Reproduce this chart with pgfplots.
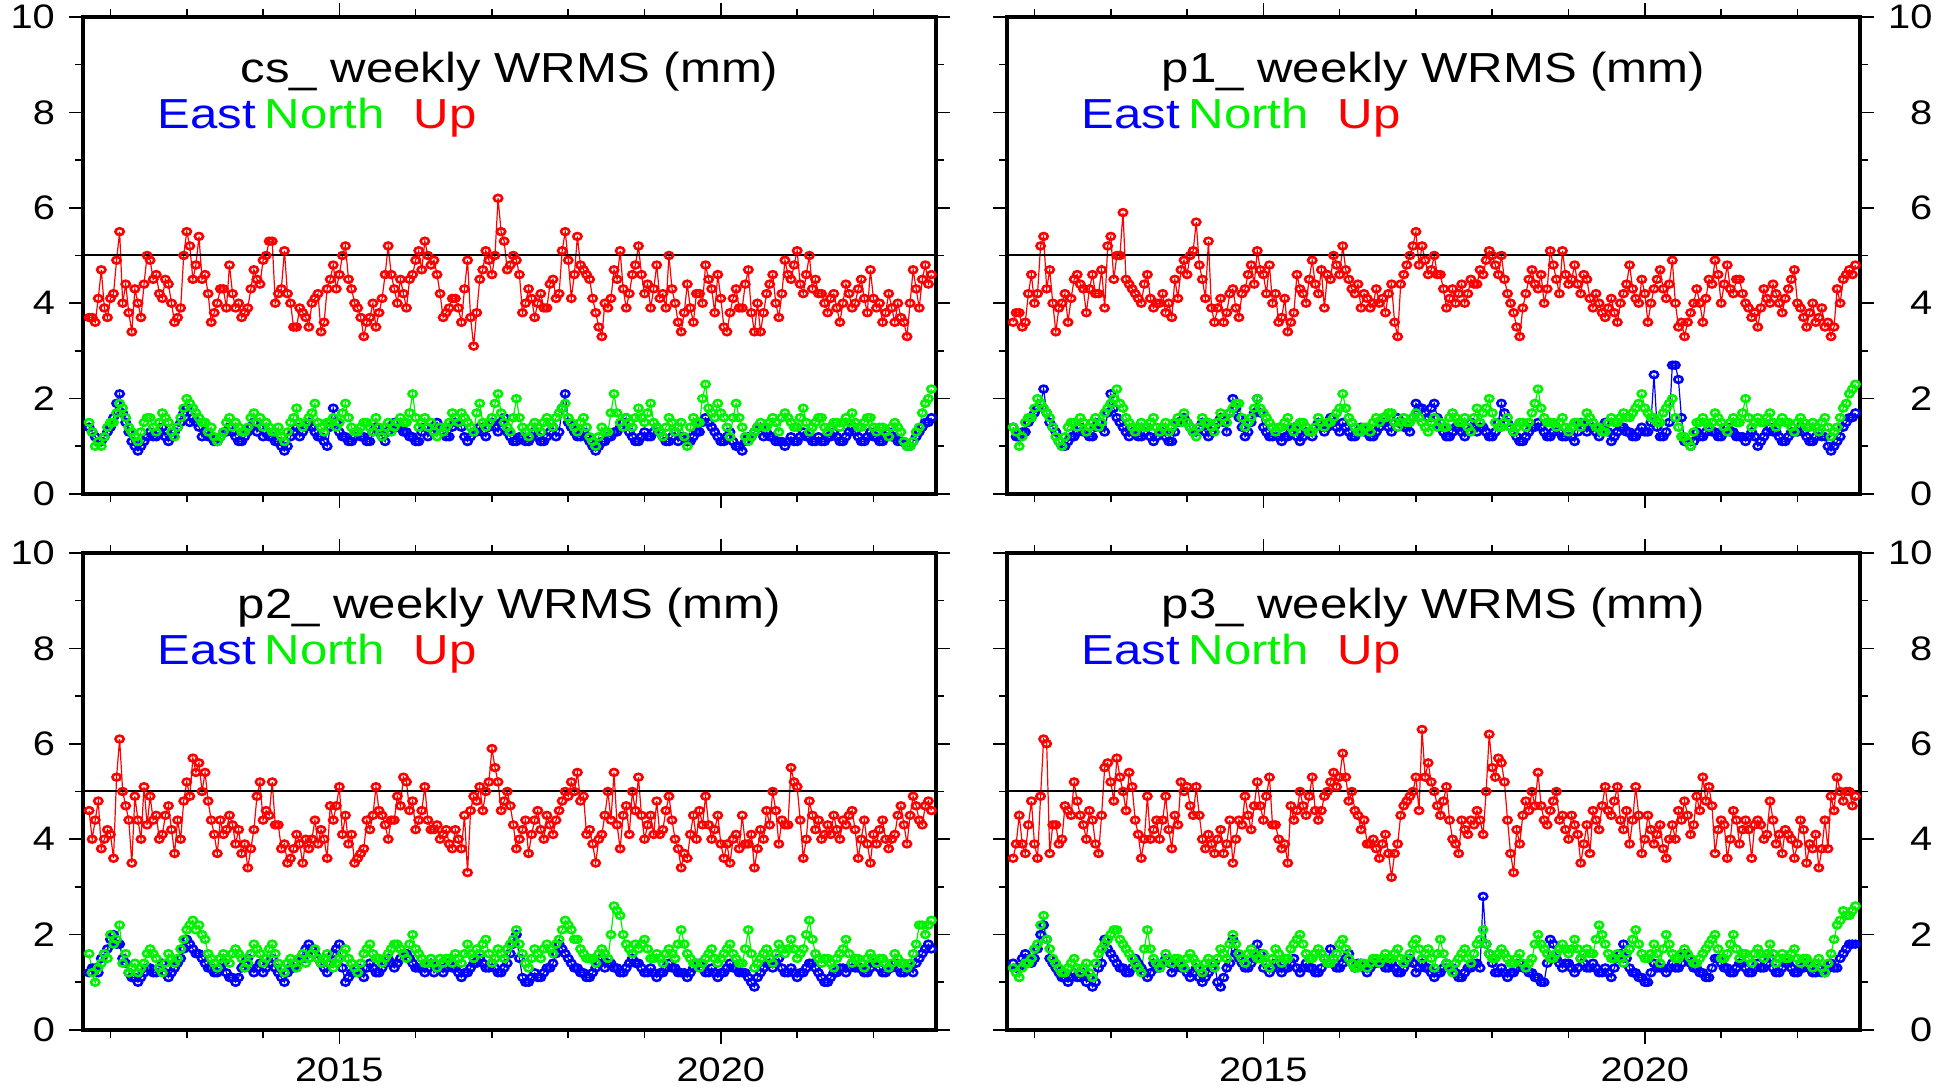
\documentclass[border=0pt]{standalone}
\usepackage{fontspec}
\setmainfont{Liberation Sans}[FakeStretch=1.17]
\usepackage{pgfplots}
\usepackage{pgfplotstable}
\pgfplotsset{compat=1.18}

\pgfplotstableread[row sep=\\, header=false]{
x 2011.72 2011.80 2011.88 2011.96 2012.04 2012.12 2012.20 2012.28 2012.36 2012.44
2012.52 2012.60 2012.68 2012.76 2012.84 2012.92 2013.00 2013.08 2013.16 2013.24
2013.32 2013.40 2013.48 2013.56 2013.64 2013.72 2013.80 2013.88 2013.96 2014.04
2014.12 2014.20 2014.28 2014.36 2014.44 2014.52 2014.60 2014.68 2014.76 2014.84
2014.92 2015.00 2015.08 2015.16 2015.24 2015.32 2015.40 2015.48 2015.56 2015.64
2015.72 2015.80 2015.88 2015.96 2016.04 2016.12 2016.20 2016.28 2016.36 2016.44
2016.52 2016.60 2016.68 2016.76 2016.84 2016.92 2017.00 2017.08 2017.16 2017.24
2017.32 2017.40 2017.48 2017.56 2017.64 2017.72 2017.80 2017.88 2017.96 2018.04
2018.12 2018.20 2018.28 2018.36 2018.44 2018.52 2018.60 2018.68 2018.76 2018.84
2018.92 2019.00 2019.08 2019.16 2019.24 2019.32 2019.40 2019.48 2019.56 2019.64
2019.72 2019.80 2019.88 2019.96 2020.04 2020.12 2020.20 2020.28 2020.36 2020.44
2020.52 2020.60 2020.68 2020.76 2020.84 2020.92 2021.00 2021.08 2021.16 2021.24
2021.32 2021.40 2021.48 2021.56 2021.64 2021.72 2021.80 2021.88 2021.96 2022.04
2022.12 2022.20 2022.28 2022.36 2022.44 2022.52 2022.60 2022.68 2022.76 \\
csU 3.7 3.6 4.7 3.7 4.2 5.5 4.4 3.4 4.0 4.4
4.9 4.6 4.1 4.4 3.6 3.9 5.5 4.5 5.4 4.6
3.6 4.0 4.3 4.8 3.9 3.7 3.9 4.7 4.4 5.0
5.3 4.2 5.1 4.0 3.5 3.8 3.5 4.1 3.4 4.3
4.8 4.6 5.2 4.3 3.9 3.3 3.7 3.5 4.1 5.2
4.3 4.5 3.9 4.6 5.1 5.3 4.8 4.6 3.7 3.9
4.1 3.6 4.9 3.1 4.5 5.1 4.6 6.2 5.3 4.8
4.9 3.8 4.3 3.7 4.2 3.9 4.5 4.2 5.5 4.1
5.4 4.7 4.5 3.8 3.3 3.9 4.7 5.1 3.9 4.6
5.2 4.2 3.9 4.8 4.2 5.0 4.0 3.4 4.4 3.6
4.2 4.8 4.3 4.6 3.5 3.8 4.3 3.9 4.7 3.4
3.4 4.2 4.6 3.7 4.9 4.5 5.1 4.2 5.0 4.5
4.2 3.8 4.2 3.6 4.4 3.9 4.3 4.1 4.7 3.9
3.6 4.2 3.6 3.7 3.3 4.7 3.9 4.8 4.6 \\
csE 1.4 1.2 1.1 1.3 1.6 2.1 1.5 1.1 0.9 1.1
1.3 1.2 1.4 1.1 1.3 1.5 1.8 1.6 1.4 1.3
1.2 1.1 1.3 1.4 1.2 1.1 1.3 1.5 1.4 1.3
1.2 1.1 0.9 1.2 1.4 1.3 1.5 1.3 1.2 1.0
1.8 1.3 1.2 1.1 1.3 1.2 1.1 1.4 1.2 1.3
1.5 1.4 1.3 1.2 1.1 1.4 1.3 1.5 1.3 1.2
1.5 1.4 1.1 1.3 1.4 1.2 1.5 1.3 1.6 1.2
1.1 1.2 1.1 1.3 1.1 1.2 1.4 1.3 2.1 1.4
1.2 1.3 1.1 0.9 1.1 1.2 1.3 1.4 1.6 1.2
1.1 1.3 1.2 1.4 1.2 1.1 1.3 1.2 1.1 1.2
1.3 1.6 1.4 1.2 1.1 1.3 1.0 0.9 1.2 1.3
1.4 1.3 1.2 1.1 1.0 1.2 1.1 1.3 1.2 1.1
1.1 1.2 1.3 1.1 1.2 1.4 1.2 1.1 1.3 1.2
1.1 1.3 1.2 1.1 1.0 1.1 1.3 1.5 1.6 \\
csN 1.5 1.0 1.0 1.4 1.5 1.9 1.6 1.3 1.1 1.5
1.6 1.3 1.7 1.5 1.2 1.6 2.0 1.8 1.6 1.5
1.4 1.1 1.3 1.6 1.5 1.3 1.4 1.7 1.6 1.5
1.3 1.4 1.1 1.5 1.8 1.4 1.6 1.9 1.4 1.5
1.6 1.5 1.9 1.4 1.3 1.5 1.4 1.6 1.2 1.5
1.4 1.6 1.5 2.1 1.4 1.6 1.5 1.2 1.3 1.5
1.6 1.7 1.5 1.3 1.9 1.4 1.6 2.1 1.5 1.3
2.0 1.4 1.2 1.5 1.3 1.6 1.4 1.7 1.9 1.5
1.3 1.6 1.2 1.0 1.4 1.3 2.1 1.5 1.6 1.4
1.8 1.5 1.9 1.4 1.2 1.6 1.3 1.5 1.0 1.6
1.5 2.3 1.7 1.9 1.6 1.2 1.9 1.4 1.1 1.3
1.5 1.4 1.6 1.3 1.7 1.5 1.4 1.8 1.3 1.5
1.6 1.3 1.5 1.4 1.6 1.7 1.4 1.5 1.6 1.3
1.4 1.2 1.5 1.3 1.0 1.1 1.4 1.9 2.2 \\
aU 3.6 3.8 3.6 4.6 4.2 5.4 4.7 3.4 4.0 3.6
4.5 4.4 3.8 4.6 4.2 3.9 5.4 5.0 5.9 4.4
4.2 4.0 4.6 3.9 4.0 3.8 3.7 4.1 4.9 5.0
5.7 4.5 5.3 3.6 4.1 3.8 4.3 3.7 4.3 4.8
5.1 4.6 4.8 4.2 3.7 3.4 3.8 4.3 4.0 4.9
4.2 3.9 4.5 4.8 5.2 4.5 4.2 3.9 4.1 4.0
4.0 3.8 4.4 3.3 4.6 5.0 5.5 5.2 4.6 5.0
4.6 3.9 4.3 4.2 4.0 4.5 4.4 4.6 5.1 4.8
5.0 4.2 3.8 3.3 4.2 4.7 4.3 4.0 5.1 4.5
5.1 4.4 4.8 4.2 4.5 3.9 4.0 3.7 4.1 3.6
4.2 4.8 4.1 4.5 3.6 4.3 4.7 4.1 4.9 3.5
3.3 3.8 4.3 3.6 4.5 4.9 4.0 4.8 4.2 4.5
4.0 3.7 3.5 4.3 4.0 4.2 3.8 4.3 4.7 3.9
3.5 4.0 3.7 3.5 3.3 4.3 4.5 4.7 4.8 \\
aE 1.4 1.2 1.3 1.6 1.8 2.2 1.5 1.3 1.0 1.1
1.2 1.4 1.3 1.2 1.5 1.3 2.1 1.6 1.4 1.2
1.3 1.2 1.4 1.1 1.3 1.2 1.1 1.5 1.6 1.4
1.3 1.5 1.2 1.4 1.6 1.3 2.0 1.6 1.2 1.5
2.0 1.4 1.2 1.3 1.1 1.2 1.4 1.1 1.3 1.2
1.5 1.3 1.6 1.4 1.5 1.3 1.2 1.4 1.3 1.2
1.4 1.5 1.3 1.6 1.4 1.3 1.9 1.8 1.6 1.9
1.4 1.2 1.3 1.4 1.2 1.5 1.3 1.4 1.2 1.3
1.9 1.5 1.3 1.1 1.2 1.4 1.5 1.3 1.2 1.4
1.2 1.3 1.1 1.5 1.3 1.4 1.2 1.5 1.1 1.3
1.4 1.3 1.2 1.4 1.3 2.5 1.2 1.3 2.7 2.4
1.1 1.0 1.3 1.2 1.4 1.3 1.2 1.4 1.3 1.2
1.1 1.3 1.0 1.2 1.4 1.3 1.1 1.2 1.3 1.4
1.2 1.1 1.3 1.2 0.9 1.1 1.4 1.6 1.7 \\
aN 1.4 1.0 1.5 1.6 2.0 1.8 1.6 1.2 1.0 1.4
1.5 1.6 1.3 1.5 1.4 1.7 1.9 2.2 1.8 1.5
1.3 1.5 1.4 1.6 1.3 1.5 1.4 1.6 1.7 1.4
1.2 1.6 1.5 1.3 1.7 1.5 1.8 1.9 1.4 1.6
2.0 1.7 1.5 1.3 1.4 1.6 1.3 1.5 1.4 1.3
1.6 1.4 1.5 1.7 2.1 1.6 1.4 1.3 1.4 1.5
1.5 1.6 1.7 1.4 1.6 1.5 1.7 1.5 1.3 1.6
1.5 1.4 1.7 1.5 1.6 1.3 1.8 1.7 2.0 1.5
1.4 1.6 1.3 1.5 1.4 1.7 2.2 1.6 1.5 1.4
1.6 1.3 1.5 1.4 1.7 1.5 1.4 1.3 1.6 1.5
1.7 1.6 1.8 2.1 1.7 1.6 1.5 1.8 2.0 1.4
1.2 1.0 1.5 1.6 1.4 1.7 1.5 1.3 1.6 1.5
2.0 1.4 1.6 1.5 1.7 1.4 1.6 1.5 1.3 1.6
1.4 1.5 1.3 1.6 1.2 1.4 1.8 2.1 2.3 \\
bU 4.6 4.4 3.8 4.2 3.6 6.1 4.7 3.5 4.4 5.1
4.9 4.5 4.1 4.7 3.7 4.0 5.2 5.7 5.6 5.4
4.4 3.7 4.1 4.5 3.9 3.7 3.4 4.2 5.2 4.6
5.2 4.3 3.9 3.6 4.1 3.5 3.8 4.4 4.2 3.6
4.4 5.1 4.5 4.1 3.6 3.8 4.2 5.1 4.5 4.0
4.4 4.7 5.2 4.8 4.4 5.1 4.2 4.3 4.1 3.9
4.2 3.8 3.3 4.9 5.1 5.0 5.9 5.2 4.8 4.7
3.8 4.2 3.7 4.4 4.2 4.5 4.1 4.6 5.0 5.2
5.4 4.9 4.2 3.5 4.1 5.0 5.4 3.8 4.7 5.0
5.3 4.0 4.5 4.8 4.2 4.9 4.0 3.4 3.6 4.5
4.6 4.9 4.0 4.5 3.6 3.5 4.1 4.5 3.9 3.4
4.2 4.6 5.0 3.9 4.3 5.5 5.1 3.6 4.8 4.2
4.0 4.3 4.5 4.0 4.3 4.6 3.6 4.4 3.5 3.9
4.4 3.8 4.1 4.7 3.9 4.9 4.4 4.7 4.6 \\
bE 1.2 1.3 1.5 1.7 2.0 1.8 1.4 1.1 1.0 1.2
1.3 1.2 1.4 1.1 1.3 1.5 1.9 1.7 1.6 1.4
1.3 1.2 1.4 1.1 1.0 1.3 1.5 1.2 1.4 1.3
1.5 1.2 1.0 1.3 1.4 1.5 1.8 1.6 1.4 1.2
1.6 1.8 1.0 1.2 1.3 1.1 1.4 1.2 1.3 1.5
1.3 1.5 1.6 1.4 1.3 1.2 1.4 1.3 1.2 1.4
1.3 1.1 1.2 1.4 1.5 1.3 1.4 1.2 1.3 1.6
2.0 1.1 1.0 1.2 1.1 1.3 1.4 1.8 1.6 1.4
1.3 1.2 1.1 1.3 1.5 1.4 1.3 1.2 1.3 1.5
1.4 1.2 1.3 1.1 1.2 1.4 1.3 1.2 1.1 1.3
1.4 1.2 1.3 1.1 1.2 1.4 1.3 1.2 1.1 0.9
1.2 1.4 1.3 1.5 1.2 1.3 1.1 1.2 1.4 1.3
1.1 1.0 1.2 1.3 1.2 1.4 1.3 1.2 1.3 1.4
1.2 1.3 1.4 1.2 1.3 1.2 1.5 1.7 1.7 \\
bN 1.6 1.0 1.4 1.5 1.8 2.2 1.6 1.3 1.2 1.4
1.7 1.5 1.2 1.6 1.4 1.7 2.1 2.3 2.2 1.9
1.5 1.3 1.6 1.4 1.7 1.5 1.4 1.8 1.6 1.5
1.8 1.4 1.2 1.5 1.3 1.6 1.5 1.7 1.4 1.6
1.3 1.5 1.7 1.4 1.2 1.6 1.8 1.5 1.4 1.6
1.8 1.7 1.5 2.0 1.6 1.4 1.5 1.3 1.4 1.5
1.6 1.4 1.8 1.5 1.6 1.9 1.4 1.7 1.5 1.8
2.1 1.6 1.3 1.7 1.5 1.8 1.6 1.9 2.3 2.1
1.9 1.6 1.5 1.4 1.7 1.5 2.6 2.4 1.8 1.6
1.7 1.9 1.5 1.6 1.4 1.7 1.5 2.1 1.6 1.4
1.3 1.5 1.7 1.4 1.6 1.8 1.5 1.4 2.1 1.3
1.5 1.7 1.4 1.8 1.6 1.9 1.5 1.7 2.3 1.6
1.4 1.5 1.3 1.6 1.9 1.4 1.5 1.3 1.6 1.4
1.5 1.3 1.6 1.4 1.3 1.6 2.2 2.0 2.3 \\
cU 3.6 4.5 3.7 4.8 3.6 6.1 3.7 4.3 4.0 4.6
5.2 4.5 4.0 4.4 3.7 5.5 5.2 5.7 5.0 5.4
4.4 3.6 4.9 4.2 4.0 4.9 3.8 4.3 5.0 4.7
5.1 4.0 4.1 3.7 4.2 3.9 3.5 4.4 4.9 4.2
5.2 4.4 5.3 4.3 3.8 3.5 4.4 5.0 4.5 5.3
4.4 4.9 5.2 5.1 5.8 4.8 4.6 4.2 3.9 4.0
3.6 4.1 3.2 3.9 4.7 4.9 5.3 6.3 5.6 5.0
4.5 5.1 4.0 3.7 4.2 4.4 4.6 4.1 6.2 5.3
5.6 4.4 3.3 3.9 4.8 5.0 5.4 4.4 4.6 5.0
4.5 4.0 4.3 3.5 4.3 4.6 4.2 5.1 4.5 5.1
4.2 3.9 5.1 3.7 4.5 3.9 4.3 3.6 4.3 4.6
4.8 4.1 4.9 5.3 5.1 3.7 4.4 3.6 4.6 3.9
4.4 3.6 4.4 4.0 4.8 3.9 3.7 4.1 3.6 4.4
3.5 3.8 3.4 4.4 4.9 5.3 4.8 5.0 4.9 \\
cE 1.4 1.3 1.6 1.4 1.7 2.2 1.5 1.3 1.1 1.0
1.2 1.1 1.0 0.9 1.3 1.9 1.6 1.4 1.3 1.2
1.5 1.3 1.1 1.4 1.3 1.5 1.2 1.4 1.3 1.1
1.3 1.0 1.2 1.4 0.9 1.3 1.9 1.5 1.3 1.4
1.8 1.3 1.2 1.4 1.2 1.3 1.5 1.2 1.4 1.3
1.2 1.5 1.7 1.3 1.4 1.6 1.3 1.4 1.2 1.4
1.4 1.3 1.4 1.2 1.3 1.5 1.2 1.4 1.3 1.1
1.2 1.4 1.3 1.1 1.2 1.3 1.4 2.8 1.6 1.2
1.3 1.1 1.2 1.4 1.3 1.2 1.1 1.0 1.9 1.5
1.3 1.4 1.2 1.5 1.3 1.4 1.2 1.3 1.1 1.5
1.8 1.3 1.2 1.1 1.0 1.4 1.3 1.2 1.4 1.3
1.6 1.4 1.3 1.2 1.1 1.5 1.4 1.3 1.2 1.4
1.3 1.2 1.4 1.3 1.5 1.2 1.3 1.4 1.2 1.3
1.4 1.2 1.3 1.2 1.4 1.3 1.6 1.8 1.8 \\
cN 1.3 1.1 1.4 1.5 1.8 2.4 1.7 1.4 1.2 1.3
1.5 1.2 1.4 1.1 1.6 1.8 2.0 2.1 1.8 1.6
1.4 1.2 2.1 1.5 1.3 1.6 1.4 1.5 1.3 1.6
1.4 1.2 1.5 1.3 1.7 1.5 2.0 1.6 1.4 1.7
1.5 1.6 1.3 1.7 1.4 1.5 1.8 2.0 1.6 1.5
1.7 1.5 1.4 1.6 1.9 1.5 1.3 1.4 1.3 1.5
1.4 1.6 1.5 1.7 1.4 1.6 1.9 1.5 1.7 1.3
1.9 1.4 1.2 1.5 1.7 1.4 1.8 2.1 1.6 1.5
1.7 1.5 1.4 1.6 1.3 1.5 2.0 1.7 1.5 1.6
1.8 1.6 1.9 1.5 1.7 1.6 2.2 1.8 1.5 1.6
1.4 1.7 2.1 1.6 1.5 1.8 1.4 2.0 1.6 1.5
1.7 1.5 1.4 1.6 1.8 2.0 1.5 1.6 2.0 1.5
1.6 1.4 1.7 1.5 1.8 1.4 1.6 1.5 1.7 1.4
1.5 1.3 1.5 1.2 1.6 2.2 2.5 2.4 2.6 \\
}\rawdata
\pgfplotstabletranspose[colnames from=0]\data\rawdata

\pgfplotstableread[row sep=\\, header=false]{
x 2011.76 2011.84 2011.92 2012.00 2012.08 2012.16 2012.24 2012.32 2012.40 2012.48
2012.56 2012.64 2012.72 2012.80 2012.88 2012.96 2013.04 2013.12 2013.20 2013.28
2013.36 2013.44 2013.52 2013.60 2013.68 2013.76 2013.84 2013.92 2014.00 2014.08
2014.16 2014.24 2014.32 2014.40 2014.48 2014.56 2014.64 2014.72 2014.80 2014.88
2014.96 2015.04 2015.12 2015.20 2015.28 2015.36 2015.44 2015.52 2015.60 2015.68
2015.76 2015.84 2015.92 2016.00 2016.08 2016.16 2016.24 2016.32 2016.40 2016.48
2016.56 2016.64 2016.72 2016.80 2016.88 2016.96 2017.04 2017.12 2017.20 2017.28
2017.36 2017.44 2017.52 2017.60 2017.68 2017.76 2017.84 2017.92 2018.00 2018.08
2018.16 2018.24 2018.32 2018.40 2018.48 2018.56 2018.64 2018.72 2018.80 2018.88
2018.96 2019.04 2019.12 2019.20 2019.28 2019.36 2019.44 2019.52 2019.60 2019.68
2019.76 2019.84 2019.92 2020.00 2020.08 2020.16 2020.24 2020.32 2020.40 2020.48
2020.56 2020.64 2020.72 2020.80 2020.88 2020.96 2021.04 2021.12 2021.20 2021.28
2021.36 2021.44 2021.52 2021.60 2021.68 2021.76 2021.84 2021.92 2022.00 2022.08
2022.16 2022.24 2022.32 2022.40 2022.48 2022.56 2022.64 2022.72 \\
csU 3.7 4.1 3.9 4.1 4.9 4.0 3.8 4.3 3.7 5.0
4.5 4.2 4.5 4.0 3.7 5.0 5.2 4.8 4.5 4.2
3.8 4.3 3.9 4.2 4.0 3.8 4.3 4.5 4.9 5.3
4.0 4.3 4.2 3.5 3.9 3.7 4.0 4.2 3.6 4.5
4.3 5.0 4.5 4.0 3.7 3.6 4.0 3.8 4.6 4.6
4.0 4.2 4.5 4.9 4.7 5.0 4.9 4.2 3.8 4.1
3.9 4.3 3.7 3.8 4.7 4.9 5.0 5.5 4.7 5.0
4.6 4.0 4.1 4.0 3.9 4.4 4.1 5.1 4.9 4.6
4.8 4.6 4.1 3.5 4.0 4.1 4.5 4.3 4.2 4.8
4.6 4.4 4.3 4.1 3.9 4.3 3.6 3.8 3.9 4.2
4.0 4.5 3.8 4.1 3.4 4.1 3.9 4.4 3.8 4.0
3.8 4.4 4.0 4.2 4.6 4.8 4.4 4.6 4.3 4.2
4.0 4.1 3.9 4.0 4.2 4.0 4.5 3.8 4.1 4.0
3.8 3.9 4.0 3.6 4.0 4.3 4.5 4.4 \\
csE 1.3 1.1 1.2 1.4 1.9 1.7 1.3 1.0 1.0 1.2
1.2 1.3 1.2 1.2 1.4 1.7 1.5 1.5 1.2 1.2
1.1 1.2 1.3 1.3 1.1 1.2 1.4 1.3 1.2 1.2
1.1 1.0 1.0 1.3 1.2 1.4 1.4 1.2 1.1 1.4
1.5 1.2 1.1 1.2 1.2 1.1 1.3 1.3 1.1 1.4
1.4 1.3 1.2 1.1 1.3 1.2 1.4 1.4 1.2 1.4
1.5 1.2 1.2 1.3 1.3 1.4 1.4 1.5 1.3 1.1
1.2 1.1 1.2 1.2 1.1 1.3 1.2 1.8 1.5 1.3
1.2 1.2 1.0 1.0 1.1 1.2 1.3 1.5 1.3 1.1
1.2 1.2 1.3 1.3 1.1 1.2 1.1 1.2 1.1 1.3
1.5 1.5 1.3 1.1 1.2 1.1 1.0 1.1 1.2 1.4
1.2 1.2 1.1 1.1 1.1 1.1 1.2 1.2 1.1 1.2
1.1 1.2 1.2 1.1 1.3 1.3 1.1 1.2 1.2 1.1
1.2 1.2 1.1 1.1 1.0 1.2 1.4 1.5 \\
csN 1.3 1.1 1.2 1.5 1.7 1.8 1.4 1.2 1.3 1.6
1.4 1.5 1.6 1.3 1.4 1.8 1.9 1.7 1.5 1.3
1.2 1.2 1.5 1.4 1.4 1.3 1.6 1.5 1.4 1.4
1.3 1.2 1.3 1.6 1.5 1.5 1.7 1.5 1.3 1.5
1.4 1.7 1.6 1.3 1.4 1.5 1.3 1.4 1.4 1.3
1.5 1.5 1.7 1.6 1.5 1.4 1.3 1.4 1.4 1.7
1.5 1.6 1.4 1.7 1.5 1.5 1.9 1.7 1.4 1.6
1.6 1.3 1.4 1.4 1.5 1.5 1.6 1.8 1.6 1.4
1.5 1.4 1.1 1.2 1.3 1.7 1.7 1.4 1.5 1.6
1.6 1.7 1.5 1.3 1.4 1.5 1.4 1.2 1.4 1.5
2.0 1.8 1.6 1.7 1.4 1.6 1.6 1.2 1.2 1.4
1.4 1.5 1.5 1.6 1.6 1.4 1.6 1.5 1.4 1.6
1.4 1.4 1.5 1.5 1.5 1.5 1.4 1.6 1.4 1.4
1.3 1.4 1.4 1.1 1.0 1.3 1.7 2.0 \\
aU 3.8 3.5 4.2 4.0 5.2 4.3 4.0 3.9 4.2 4.1
4.6 4.3 4.3 4.2 4.7 5.2 4.5 5.0 4.5 4.3
4.1 4.4 4.1 4.0 4.2 4.0 4.5 4.7 4.6 5.1
4.8 4.1 3.9 3.9 3.6 4.2 3.9 4.2 4.6 4.4
4.7 4.2 4.0 3.6 4.1 3.6 4.6 4.2 4.5 4.4
4.7 4.6 5.0 4.6 4.7 4.3 4.4 4.2 3.9 4.3
4.1 4.2 3.6 4.4 4.8 5.2 4.8 4.9 4.7 4.6
4.3 4.1 4.0 4.4 4.2 4.4 4.7 4.9 5.0 4.6
4.5 4.0 3.5 3.9 4.5 4.4 4.6 4.3 4.8 4.2
4.6 4.5 4.4 4.6 4.1 4.2 3.8 3.9 3.8 4.0
4.4 4.3 4.0 4.2 4.0 4.5 4.3 4.4 4.0 3.6
3.6 4.0 4.0 4.1 4.4 4.6 4.4 4.3 4.5 4.2
3.9 3.8 3.9 4.1 4.4 4.0 4.1 4.5 4.0 3.7
3.8 3.6 3.9 3.6 3.5 4.0 4.6 4.6 \\
aE 1.2 1.3 1.5 1.7 1.9 1.7 1.4 1.1 1.0 1.2
1.3 1.3 1.2 1.4 1.4 1.7 1.8 1.5 1.3 1.3
1.2 1.3 1.2 1.2 1.3 1.1 1.3 1.5 1.5 1.3
1.4 1.3 1.3 1.5 1.5 1.7 1.8 1.4 1.3 1.7
1.7 1.3 1.2 1.2 1.2 1.3 1.2 1.2 1.3 1.4
1.4 1.4 1.5 1.3 1.4 1.2 1.3 1.3 1.2 1.3
1.5 1.4 1.5 1.5 1.4 1.6 1.8 1.7 1.8 1.6
1.3 1.2 1.4 1.3 1.3 1.4 1.4 1.3 1.2 1.5
1.7 1.4 1.2 1.1 1.3 1.4 1.4 1.2 1.3 1.3
1.2 1.2 1.3 1.4 1.4 1.3 1.4 1.3 1.2 1.4
1.3 1.2 1.3 1.3 1.5 1.4 1.2 1.5 2.7 1.6
1.1 1.1 1.2 1.3 1.3 1.2 1.3 1.3 1.2 1.2
1.2 1.2 1.1 1.3 1.3 1.2 1.1 1.3 1.3 1.3
1.1 1.2 1.2 1.0 1.0 1.2 1.5 1.6 \\
aN 1.3 1.2 1.6 1.8 1.9 1.7 1.4 1.1 1.2 1.5
1.4 1.5 1.4 1.6 1.5 1.8 2.0 1.9 1.6 1.4
1.4 1.4 1.5 1.4 1.4 1.3 1.5 1.5 1.5 1.3
1.4 1.5 1.4 1.5 1.6 1.7 1.9 1.6 1.5 1.8
1.8 1.6 1.4 1.4 1.5 1.4 1.4 1.5 1.3 1.4
1.5 1.5 1.6 1.8 1.8 1.5 1.3 1.4 1.3 1.6
1.6 1.7 1.5 1.5 1.5 1.6 1.6 1.4 1.5 1.4
1.4 1.6 1.6 1.5 1.4 1.6 1.5 1.8 1.7 1.4
1.5 1.4 1.4 1.5 1.5 1.9 1.8 1.5 1.5 1.5
1.4 1.4 1.5 1.5 1.6 1.4 1.3 1.5 1.5 1.6
1.6 1.7 1.9 1.8 1.6 1.5 1.7 1.9 1.6 1.2
1.1 1.3 1.5 1.5 1.5 1.6 1.4 1.5 1.5 1.7
1.6 1.5 1.5 1.6 1.5 1.5 1.5 1.4 1.5 1.5
1.4 1.4 1.5 1.4 1.3 1.6 1.9 2.2 \\
bU 4.0 4.8 4.0 4.1 5.3 5.0 4.4 4.9 4.0 4.3
4.4 4.0 4.5 4.2 4.4 4.8 4.9 5.4 5.0 4.8
4.1 4.4 4.2 4.3 4.2 3.9 3.8 4.9 4.4 4.5
4.3 3.8 3.5 3.8 3.9 4.0 4.0 3.9 4.0 4.7
4.7 4.1 3.9 3.5 3.7 4.4 4.5 4.6 4.3 4.4
4.9 5.3 4.6 4.2 4.6 4.4 4.2 4.0 4.2 3.8
4.0 4.5 4.6 4.8 4.6 5.2 5.5 4.6 5.0 4.3
4.0 4.4 4.1 4.6 4.0 4.3 4.4 4.8 4.9 5.0
4.8 4.1 3.9 4.0 4.5 4.4 4.3 4.5 4.1 4.6
4.5 4.3 4.1 4.1 4.6 4.4 3.8 3.7 4.1 4.0
4.3 4.3 4.2 3.9 3.9 4.0 3.8 3.9 4.1 3.8
4.0 4.3 4.6 4.4 4.3 5.2 4.4 4.0 4.5 4.4
4.1 4.1 4.2 4.4 4.5 4.2 4.0 3.9 4.1 4.2
4.0 4.0 4.5 4.3 4.5 4.7 4.3 4.8 \\
bE 1.3 1.2 1.6 1.9 1.8 1.5 1.2 1.1 1.1 1.3
1.2 1.3 1.2 1.2 1.4 1.7 1.8 1.6 1.5 1.3
1.2 1.3 1.2 1.1 1.1 1.4 1.3 1.3 1.2 1.4
1.3 1.1 1.2 1.3 1.5 1.7 1.7 1.5 1.3 1.4
1.7 1.3 1.1 1.2 1.2 1.3 1.3 1.2 1.4 1.4
1.4 1.6 1.5 1.3 1.3 1.3 1.2 1.3 1.3 1.3
1.2 1.2 1.3 1.4 1.4 1.3 1.3 1.2 1.4 1.8
1.5 1.0 1.1 1.1 1.2 1.3 1.6 1.7 1.5 1.3
1.2 1.1 1.2 1.4 1.3 1.4 1.3 1.2 1.4 1.4
1.3 1.2 1.2 1.2 1.3 1.3 1.2 1.2 1.2 1.4
1.3 1.2 1.2 1.2 1.3 1.3 1.2 1.2 1.0 1.1
1.3 1.4 1.4 1.3 1.2 1.2 1.2 1.3 1.4 1.2
1.0 1.1 1.2 1.3 1.3 1.3 1.3 1.2 1.4 1.3
1.2 1.3 1.3 1.2 1.3 1.4 1.6 1.8 \\
bN 1.2 1.3 1.6 2.0 1.9 1.4 1.2 1.4 1.3 1.6
1.6 1.3 1.4 1.5 1.5 1.9 2.2 2.1 2.0 1.6
1.4 1.5 1.5 1.6 1.6 1.3 1.6 1.7 1.4 1.7
1.6 1.3 1.4 1.4 1.5 1.4 1.6 1.5 1.5 1.4
1.4 1.6 1.5 1.3 1.4 1.7 1.6 1.5 1.5 1.7
1.8 1.6 1.8 1.7 1.5 1.4 1.4 1.5 1.5 1.4
1.5 1.6 1.6 1.7 1.8 1.6 1.5 1.6 1.7 1.9
1.8 1.4 1.5 1.6 1.7 1.7 1.8 2.1 2.2 1.9
1.7 1.5 1.5 1.6 1.6 2.0 2.5 2.0 1.7 1.8
1.8 1.7 1.5 1.5 1.6 1.6 1.8 1.8 1.5 1.4
1.4 1.6 1.5 1.5 1.7 1.6 1.4 1.7 1.6 1.4
1.6 1.5 1.6 1.7 1.7 1.7 1.6 2.0 1.9 1.5
1.5 1.4 1.5 1.7 1.6 1.5 1.4 1.5 1.5 1.5
1.4 1.4 1.5 1.4 1.4 1.8 2.2 2.2 \\
cU 3.9 3.9 4.3 3.9 4.9 6.0 4.3 3.9 4.7 4.5
4.8 4.3 4.6 3.9 4.5 5.6 4.8 5.3 4.6 5.1
4.1 4.0 4.0 4.4 4.4 4.2 4.5 5.2 5.1 4.5
4.5 3.8 3.9 4.0 3.7 4.4 4.0 4.3 4.5 4.7
4.7 4.9 4.3 4.0 3.9 4.7 4.6 4.7 4.9 4.6
4.6 5.0 5.4 5.3 5.3 5.0 4.5 4.4 3.9 3.8
3.9 3.7 3.7 4.5 4.8 5.0 4.6 5.3 5.2 4.7
4.8 4.4 3.9 4.4 4.1 4.3 4.4 5.0 5.5 5.7
5.2 3.7 4.2 4.5 4.6 4.7 4.7 4.3 4.8 4.4
4.2 4.5 4.1 3.9 3.7 4.4 4.7 4.6 4.8 4.4
4.6 4.4 4.5 4.0 4.2 4.1 3.8 4.0 4.0 4.4
4.5 4.3 4.6 4.8 4.7 4.2 4.3 4.0 4.4 4.2
4.2 4.3 4.3 4.1 4.4 4.1 4.2 4.0 3.9 4.2
3.9 4.1 3.8 3.8 4.6 5.0 5.0 4.7 \\
cE 1.3 1.5 1.5 1.5 2.0 1.9 1.4 1.2 1.1 1.1
1.1 1.2 1.1 1.0 1.4 1.7 1.5 1.3 1.2 1.3
1.4 1.2 1.2 1.3 1.4 1.4 1.3 1.3 1.2 1.2
1.1 1.1 1.3 1.0 1.1 1.4 1.6 1.4 1.3 1.5
1.6 1.4 1.3 1.3 1.3 1.4 1.3 1.3 1.3 1.2
1.3 1.4 1.5 1.3 1.5 1.4 1.4 1.3 1.3 1.4
1.4 1.3 1.3 1.2 1.4 1.4 1.3 1.3 1.2 1.2
1.3 1.3 1.2 1.1 1.3 1.4 1.3 1.8 1.4 1.2
1.2 1.2 1.3 1.3 1.2 1.1 1.0 1.4 1.8 1.4
1.4 1.3 1.3 1.4 1.3 1.3 1.2 1.2 1.3 1.6
1.5 1.2 1.1 1.0 1.2 1.3 1.3 1.3 1.3 1.4
1.5 1.3 1.2 1.1 1.3 1.5 1.3 1.2 1.3 1.4
1.2 1.3 1.3 1.4 1.3 1.2 1.4 1.3 1.2 1.3
1.3 1.2 1.2 1.3 1.3 1.5 1.7 1.8 \\
cN 1.2 1.3 1.4 1.7 2.2 1.9 1.5 1.3 1.2 1.4
1.3 1.3 1.2 1.4 1.7 1.9 2.1 1.9 1.7 1.5
1.3 1.7 1.7 1.4 1.4 1.5 1.5 1.4 1.5 1.5
1.3 1.4 1.4 1.5 1.6 1.8 1.8 1.5 1.6 1.6
1.5 1.4 1.5 1.6 1.5 1.7 1.9 1.8 1.5 1.6
1.6 1.4 1.5 1.8 1.7 1.4 1.3 1.4 1.4 1.5
1.5 1.5 1.6 1.5 1.5 1.8 1.7 1.6 1.5 1.6
1.6 1.3 1.4 1.6 1.5 1.6 1.9 1.8 1.5 1.6
1.6 1.4 1.5 1.4 1.4 1.8 1.8 1.6 1.5 1.7
1.7 1.7 1.7 1.6 1.6 1.9 2.0 1.6 1.5 1.5
1.6 1.9 1.8 1.5 1.6 1.6 1.7 1.8 1.5 1.6
1.6 1.4 1.5 1.7 1.9 1.7 1.5 1.8 1.7 1.6
1.5 1.6 1.6 1.6 1.6 1.5 1.5 1.6 1.5 1.5
1.4 1.4 1.3 1.4 1.9 2.3 2.4 2.5 \\
}\rawdatab
\pgfplotstabletranspose[colnames from=0]\datab\rawdatab
\pgfplotstablevertcat{\data}{\datab}
\pgfplotstablesort[sort key=x]{\datas}{\data}

\definecolor{ce}{rgb}{0,0,1}
\definecolor{cn}{rgb}{0,0.95,0}
\definecolor{cu}{rgb}{1,0,0}
\newcommand\titlefont{\fontsize{10.5}{12}\selectfont}

\pgfplotsset{
  panel/.style={
    scale only axis, width=213.25pt, height=119.25pt,
    xmin=2011.64, xmax=2022.82, ymin=0, ymax=10,
    xtick={2015,2020},
    minor xtick={2012,2013,2014,2016,2017,2018,2019,2021,2022},
    ytick={0,2,4,6,8,10}, minor ytick={1,3,5,7,9},
    tick align=outside, major tick length=3.5pt, minor tick length=2pt,
    axis line style={line width=0.8pt},
    tick style={black, line width=0.4pt},
    tick label style={font=\fontsize{8.5}{9.5}\selectfont},
    /pgf/number format/assume math mode=true,
    /pgf/number format/1000 sep={},
  },
  ser/.style={line width=0.3pt, mark=o, mark size=0.85pt, mark options={solid, xscale=1.22, line width=0.65pt}},
}

\newcommand\panel[4]{%
\begin{axis}[panel, at={#1}, anchor=south west, #3]
\addplot[ser, ce] table[x=x, y=#2E] {\datas};
\addplot[ser, cn] table[x=x, y=#2N] {\datas};
\addplot[ser, cu] table[x=x, y=#2U] {\datas};
\addplot[black, line width=0.5pt, no marks] coordinates {(2011.64,5) (2022.82,5)};
\node[anchor=base, font=\titlefont, inner sep=0pt] at (rel axis cs:0.5,0.862) {#4};
\node[anchor=base west, font=\titlefont, text=ce, inner sep=0pt] at (rel axis cs:0.0864,0.767) {East};
\node[anchor=base west, font=\titlefont, text=cn, inner sep=0pt] at (rel axis cs:0.2122,0.767) {North};
\node[anchor=base west, font=\titlefont, text=cu, inner sep=0pt] at (rel axis cs:0.3869,0.767) {Up};
\end{axis}}

\begin{document}
\begin{tikzpicture}
\useasboundingbox (0,0) rectangle (487.25pt,272.5pt);
\panel{(20.75pt,149pt)}{cs}{xticklabels={}}{cs\_ weekly WRMS (mm)}
\panel{(251.75pt,149pt)}{a}{xticklabels={}, yticklabel pos=right, yticklabel style={text width=11pt, align=right}}{p1\_ weekly WRMS (mm)}
\panel{(20.75pt,15pt)}{b}{}{p2\_ weekly WRMS (mm)}
\panel{(251.75pt,15pt)}{c}{yticklabel pos=right, yticklabel style={text width=11pt, align=right}}{p3\_ weekly WRMS (mm)}
\end{tikzpicture}
\end{document}
